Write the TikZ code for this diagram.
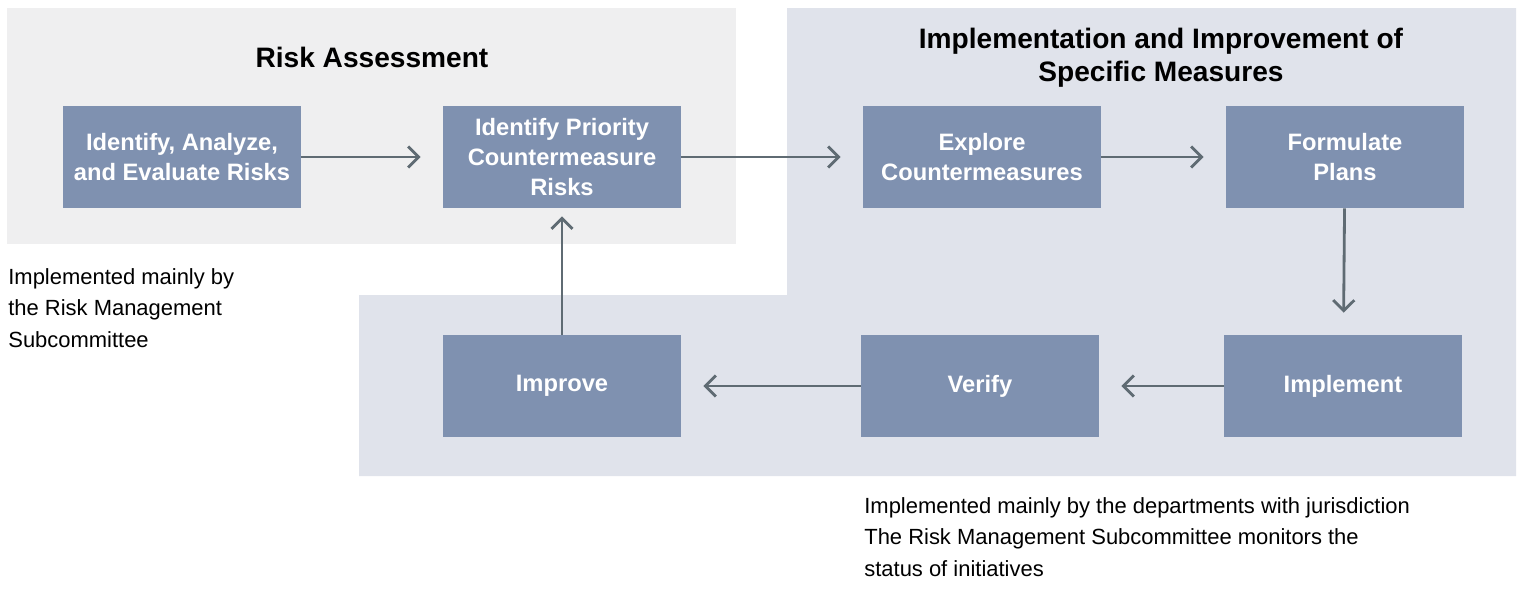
\documentclass[tikz,border=0pt]{standalone}
\usepackage{fontspec}
\setmainfont{Liberation Sans}
\usetikzlibrary{arrows.meta}
\definecolor{panelgray}{HTML}{EFEFF0}
\definecolor{panelblue}{HTML}{E0E3EB}
\definecolor{stepfill}{HTML}{7F91B0}
\definecolor{arrowgray}{HTML}{5F6B73}
\tikzset{
  stepbox/.style={fill=stepfill, minimum width=238*0.02cm, minimum height=102*0.02cm,
    text=white, font=\fontsize{13.5}{17}\selectfont\bfseries, align=center, inner sep=0pt},
  flow/.style={draw=arrowgray, line width=1.6pt, -{Straight Barb[length=6pt,width=12pt]}, shorten >=22*0.02cm},
  note/.style={font=\fontsize{12.5}{18}\selectfont, align=left, anchor=north west, inner sep=0pt},
  heading/.style={font=\fontsize{16}{19}\selectfont\bfseries, align=center}
}
\begin{document}
\begin{tikzpicture}[x=0.02cm, y=-0.02cm]
    \useasboundingbox (0,0) rectangle (1522,589);
    % panels
    \fill[panelgray] (7,8) rectangle (736,244);
    \fill[panelblue] (787,8) -- (1516,8) -- (1516,476) -- (359,476) -- (359,295) -- (787,295) -- cycle;
    % headings
    \node[heading] (ra) at (372,57) {Risk Assessment};
    \node[heading] (im) at (1161,58) {Implementation and Improvement of\\Specific Measures};
    % steps
    \node[stepbox] (identify) at (182,157) {Identify, Analyze,\\and Evaluate Risks};
    \node[stepbox] (priority) at (562,157) {Identify Priority\\Countermeasure\\Risks};
    \node[stepbox] (explore) at (982,157) {Explore\\Countermeasures};
    \node[stepbox] (formulate) at (1345,157) {Formulate\\Plans};
    \node[stepbox] (implement) at (1343,386) {Implement};
    \node[stepbox] (verify) at (980,386) {Verify};
    \node[stepbox] (improve) at (562,386) {Improve};
    % arrows
    \draw[flow] (identify) -- (priority);
    \draw[flow] (priority) -- (explore);
    \draw[flow] (explore) -- (formulate);
    \draw[flow] (formulate) -- (implement);
    \draw[flow] (implement) -- (verify);
    \draw[flow] (verify) -- (improve);
    \draw[flow, shorten >=8*0.02cm] (improve) -- (priority);
    % notes
    \node[note] (leftnote) at (8,268) {Implemented mainly by\\the Risk Management\\Subcommittee};
    \node[note] (rightnote) at (864,497) {Implemented mainly by the departments with jurisdiction\\The Risk Management Subcommittee monitors the\\status of initiatives};
\end{tikzpicture}
\end{document}
